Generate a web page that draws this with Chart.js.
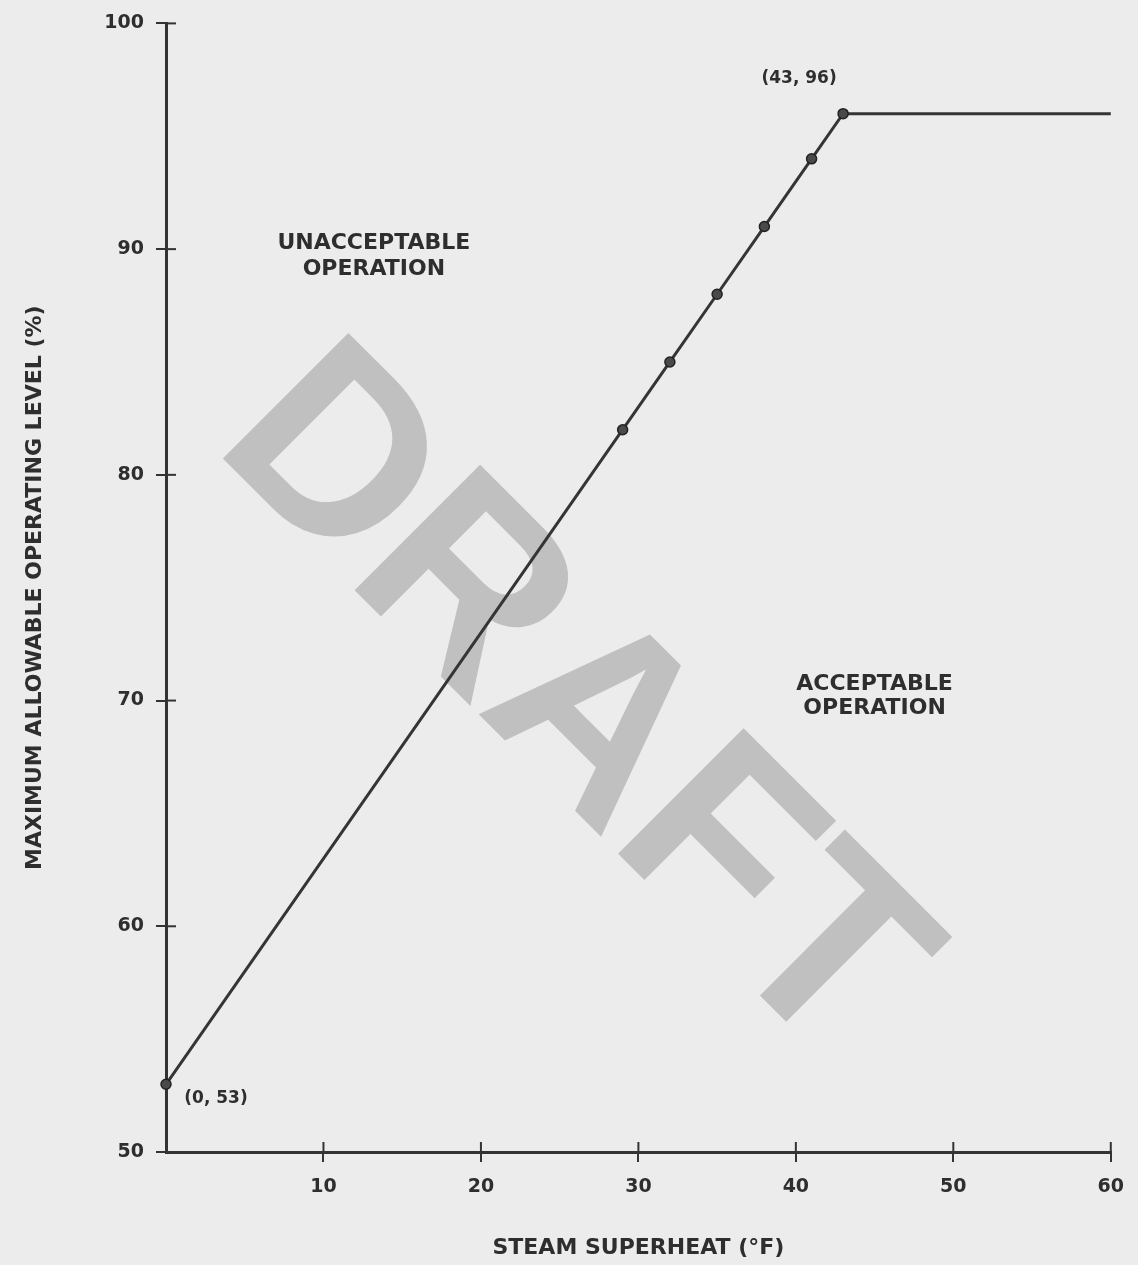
<!DOCTYPE html>
<html>
<head>
<meta charset="utf-8">
<script src="https://cdn.jsdelivr.net/npm/chart.js@4.4.1/dist/chart.umd.min.js"></script>
<style>
  html, body { margin: 0; padding: 0; background: #ececec; }
  #wrap { width: 1138px; height: 1265px; position: relative; }
</style>
</head>
<body>
<div id="wrap"><canvas id="c" width="1138" height="1265"></canvas></div>
<script>
// ---- data ----
const superheatF = [0, 29, 32, 35, 38, 41, 43, 60];
const maxLevelPct = [53, 82, 85, 88, 91, 94, 96, 96];
const markerShown = [true, true, true, true, true, true, true, false];
const xTickValues = [10, 20, 30, 40, 50, 60];
const yTickValues = [50, 60, 70, 80, 90, 100];
const xTitle = 'STEAM SUPERHEAT (\u00B0F)';
const yTitle = 'MAXIMUM ALLOWABLE OPERATING LEVEL (%)';
const regionLabels = [['UNACCEPTABLE', 'OPERATION'], ['ACCEPTABLE', 'OPERATION']];
const regionAt = [[13.2, 89.7], [45.0, 70.2]];
const pointNotes = ['(0, 53)', '(43, 96)'];
const pointNoteIndex = [0, 6];
const watermark = 'DRAFT';

const INK = '#2e2e2e';
const FONT = "'DejaVu Sans', sans-serif";

const decor = {
  id: 'decor',
  beforeDraw(chart) {
    const ctx = chart.ctx;
    ctx.save();
    ctx.fillStyle = '#ececec';
    ctx.fillRect(0, 0, chart.width, chart.height);
    ctx.restore();
  },
  beforeDatasetsDraw(chart) {
    const ctx = chart.ctx;
    // watermark
    ctx.save();
    ctx.translate(570, 705);
    ctx.rotate(Math.PI / 4);
    ctx.font = "bold 258px 'Liberation Sans', Arial, sans-serif";
    ctx.fillStyle = '#c0c0c0';
    ctx.textAlign = 'center';
    ctx.textBaseline = 'middle';
    ctx.fillText(watermark, 0, 0);
    ctx.restore();
  },
  afterDatasetsDraw(chart) {
    const ctx = chart.ctx;
    const xs = chart.scales.x, ys = chart.scales.y;
    ctx.save();
    // inner halves of tick marks (ticks cross the axes)
    ctx.strokeStyle = '#333';
    ctx.lineWidth = 2;
    xs.ticks.forEach(t => {
      const px = xs.getPixelForValue(t.value);
      ctx.beginPath(); ctx.moveTo(px, ys.bottom); ctx.lineTo(px, ys.bottom - 10); ctx.stroke();
    });
    ys.ticks.forEach(t => {
      const py = ys.getPixelForValue(t.value);
      ctx.beginPath(); ctx.moveTo(xs.left, py); ctx.lineTo(xs.left + 10, py); ctx.stroke();
    });
    // region labels
    ctx.fillStyle = INK;
    ctx.font = 'bold 22px ' + FONT;
    ctx.textAlign = 'center';
    ctx.textBaseline = 'middle';
    regionLabels.forEach((lines, i) => {
      const cx = xs.getPixelForValue(regionAt[i][0]);
      const cy = ys.getPixelForValue(regionAt[i][1]);
      const lh = i === 0 ? 26 : 24;
      lines.forEach((s, k) => ctx.fillText(s, cx, cy + (k - (lines.length - 1) / 2) * lh));
    });
    // point notes
    ctx.font = 'bold 17px ' + FONT;
    const meta = chart.getDatasetMeta(0);
    const offs = [[50, 14], [-44, -35]];
    pointNotes.forEach((s, i) => {
      const el = meta.data[pointNoteIndex[i]];
      ctx.fillText(s, el.x + offs[i][0], el.y + offs[i][1]);
    });
    ctx.restore();
  }
};

new Chart(document.getElementById('c'), {
  type: 'scatter',
  data: {
    datasets: [{
      data: superheatF.map((x, i) => ({ x, y: maxLevelPct[i] })),
      showLine: true,
      borderColor: '#353535',
      borderWidth: 3,
      pointRadius: markerShown.map(s => s ? 5 : 0),
      pointBackgroundColor: '#4a4a4a',
      pointBorderColor: '#222',
      pointBorderWidth: 1.5,
      clip: false
    }]
  },
  options: {
    responsive: false,
    animation: false,
    devicePixelRatio: 1,
    layout: { padding: { left: 0, right: 26, top: 17, bottom: 0 } },
    plugins: { legend: { display: false }, tooltip: { enabled: false } },
    scales: {
      x: {
        type: 'linear', min: 0, max: 60,
        afterFit(s) { s.height = 113; },
        afterBuildTicks(s) { s.ticks = xTickValues.map(v => ({ value: v })); },
        border: { display: true, color: '#333', width: 3 },
        grid: { drawOnChartArea: false, drawTicks: true, tickLength: 10, color: '#333', lineWidth: 2 },
        ticks: { color: INK, font: { family: FONT, size: 19, weight: 'bold' }, padding: 14, maxRotation: 0 },
        title: { display: true, text: xTitle, color: INK, font: { family: FONT, size: 22, weight: 'bold' }, padding: { top: 0, bottom: 4 } }
      },
      y: {
        type: 'linear', min: 50, max: 100,
        afterFit(s) { s.width = 166; },
        afterBuildTicks(s) { s.ticks = yTickValues.map(v => ({ value: v })); },
        border: { display: true, color: '#333', width: 3 },
        grid: { drawOnChartArea: false, drawTicks: true, tickLength: 10, color: '#333', lineWidth: 2 },
        ticks: { color: INK, font: { family: FONT, size: 19, weight: 'bold' }, padding: 12 },
        title: { display: true, text: yTitle, color: INK, font: { family: FONT, size: 22, weight: 'bold' }, padding: { top: 22, bottom: 0 } }
      }
    }
  },
  plugins: [decor]
});
</script>
</body>
</html>
